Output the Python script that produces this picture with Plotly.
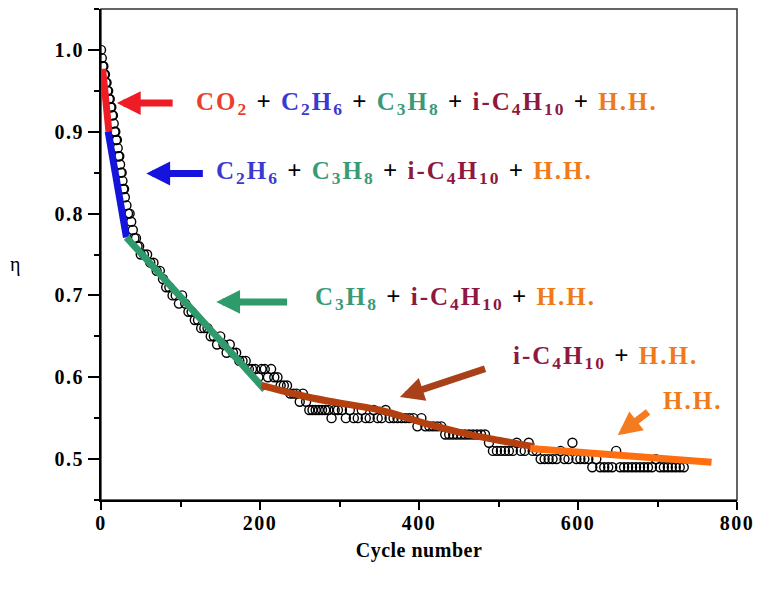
import plotly.graph_objects as go

# ---------------- data ----------------
cycles_a = [0, 1, 2, 3, 4, 5, 6, 7, 8, 9, 10, 11, 12, 13, 14, 15, 16, 17, 18, 19, 20,
            21, 22, 23, 24, 25, 26, 27, 28, 29, 30, 32, 34, 36, 38, 40, 42, 44, 46, 48, 50]
eta_a = [1.00, 0.99, 0.98, 0.98, 0.97, 0.97, 0.96, 0.96, 0.95, 0.95, 0.94, 0.94, 0.93, 0.93,
         0.92, 0.92, 0.91, 0.90, 0.90, 0.89, 0.89, 0.88, 0.87, 0.87, 0.86, 0.85, 0.85, 0.84,
         0.83, 0.83, 0.82, 0.81, 0.80, 0.80, 0.79, 0.78, 0.77, 0.77, 0.76, 0.76, 0.75]

cycles_b = [54, 58, 62, 66, 70, 74, 78, 82, 86, 90, 94, 98, 102, 106, 110, 114, 118, 122,
            126, 130, 134, 138, 142, 146, 150, 154, 158, 162, 166, 170, 174, 178, 182, 186,
            190, 194, 198, 202, 206, 210, 214, 218, 222, 226, 230, 234, 238, 242, 246, 250,
            254, 258, 262, 266, 270, 274, 278, 282, 286, 290, 294, 298]
eta_b = [0.75, 0.75, 0.74, 0.74, 0.73, 0.73, 0.72, 0.71, 0.71, 0.70, 0.70, 0.69, 0.70, 0.69,
         0.68, 0.68, 0.67, 0.67, 0.66, 0.66, 0.66, 0.65, 0.65, 0.64, 0.65, 0.64, 0.63, 0.64,
         0.63, 0.63, 0.62, 0.62, 0.62, 0.61, 0.61, 0.61, 0.60, 0.61, 0.61, 0.60, 0.61, 0.60,
         0.60, 0.59, 0.59, 0.59, 0.58, 0.58, 0.58, 0.57, 0.58, 0.57, 0.56, 0.56, 0.56, 0.56,
         0.56, 0.56, 0.56, 0.55, 0.56, 0.56]

cycles_c = [303, 308, 313, 318, 323, 328, 333, 338, 343, 348, 353, 358, 363, 368, 373, 378,
            383, 388, 393, 398, 403, 408, 413, 418, 423, 428, 433, 438, 443, 448, 453, 458,
            463, 468, 473, 478, 483, 488, 493, 498, 503, 508, 513, 518, 523, 528, 533, 538,
            543, 548, 553, 558, 563, 568, 573, 578, 583, 588, 593, 598, 603, 608, 613, 618,
            623, 628, 633, 638, 643, 648, 653, 658, 663, 668, 673, 678, 683, 688, 693, 698,
            703, 708, 713, 718, 723, 728, 733]
eta_c = [0.56, 0.55, 0.56, 0.55, 0.55, 0.56, 0.55, 0.55, 0.56, 0.55, 0.55, 0.56, 0.55, 0.55,
         0.55, 0.55, 0.55, 0.55, 0.55, 0.54, 0.55, 0.54, 0.54, 0.54, 0.54, 0.54, 0.53, 0.53,
         0.53, 0.53, 0.53, 0.53, 0.53, 0.53, 0.53, 0.53, 0.53, 0.52, 0.51, 0.51, 0.51, 0.51,
         0.51, 0.51, 0.52, 0.51, 0.51, 0.52, 0.51, 0.51, 0.50, 0.50, 0.50, 0.50, 0.50, 0.51,
         0.50, 0.50, 0.52, 0.50, 0.50, 0.50, 0.50, 0.49, 0.50, 0.49, 0.49, 0.49, 0.49, 0.51,
         0.49, 0.49, 0.49, 0.49, 0.49, 0.49, 0.49, 0.49, 0.49, 0.50, 0.49, 0.49, 0.49, 0.49,
         0.49, 0.49, 0.49]

# fitted segments
fit_co2_x = [2, 10]
fit_co2_y = [0.977, 0.900]
fit_c2_x = [9, 32]
fit_c2_y = [0.900, 0.771]
fit_c3_x = [32, 206]
fit_c3_y = [0.771, 0.585]
fit_c4_x = [202, 250, 285, 350, 410, 450, 500, 545]
fit_c4_y = [0.590, 0.578, 0.571, 0.560, 0.543, 0.533, 0.523, 0.515]
fit_hh_x = [540, 768]
fit_hh_y = [0.513, 0.496]

x_ticks = [0, 200, 400, 600, 800]
y_ticks = [0.5, 0.6, 0.7, 0.8, 0.9, 1.0]

# ---------------- colours ----------------
C_CO2 = "#e8402c"
C_C2 = "#3a3ad0"
C_C3 = "#3a9a78"
C_C4 = "#8e1840"
C_HH = "#f07a1a"

L_CO2 = "#ee1c25"
L_C2 = "#1414dc"
L_C3 = "#2f9a6c"
L_C4 = "#b4400f"
L_HH = "#ff6f12"

FONT = "Liberation Serif"
LS = "letter-spacing:2px"

cycles = cycles_a + cycles_b + cycles_c
eta = eta_a + eta_b + eta_c

fig = go.Figure()
fig.add_trace(go.Scatter(
    x=cycles, y=eta, mode="markers",
    marker=dict(symbol="circle-open", size=9, color="black", line=dict(width=1.4, color="black")),
    showlegend=False, hoverinfo="x+y"))

for fx, fy, col in [(fit_co2_x, fit_co2_y, L_CO2), (fit_c2_x, fit_c2_y, L_C2),
                    (fit_c3_x, fit_c3_y, L_C3), (fit_c4_x, fit_c4_y, L_C4),
                    (fit_hh_x, fit_hh_y, L_HH)]:
    fig.add_trace(go.Scatter(x=fx, y=fy, mode="lines", line=dict(color=col, width=7, shape="spline"),
                             showlegend=False, hoverinfo="skip"))


def sp(txt, col):
    return f"<span style='color:{col};{LS}'>{txt}</span>"


CO2 = sp("CO<sub>2</sub>", C_CO2)
C2 = sp("C<sub>2</sub>H<sub>6</sub>", C_C2)
C3 = sp("C<sub>3</sub>H<sub>8</sub>", C_C3)
C4 = sp("i-C<sub>4</sub>H<sub>10</sub>", C_C4)
HH = sp("H.H.", C_HH)
PL = sp(" + ", "#000000")

labels = [
    (CO2 + PL + C2 + PL + C3 + PL + C4 + PL + HH, 117, 0.935),
    (C2 + PL + C3 + PL + C4 + PL + HH, 142, 0.850),
    (C3 + PL + C4 + PL + HH, 267, 0.696),
    (C4 + PL + HH, 516, 0.624),
    (HH, 705, 0.572),
]
for txt, lx, ly in labels:
    fig.add_annotation(x=lx, y=ly, xref="x", yref="y", text=txt, showarrow=False,
                       xanchor="left", yanchor="middle",
                       font=dict(family=FONT, size=25, color="black", weight="bold"))

arrows = [
    (20, 0.935, 92, 0.935, L_CO2),
    (57, 0.849, 130, 0.849, L_C2),
    (145, 0.692, 236, 0.692, L_C3),
    (376, 0.576, 485, 0.611, "#a8401a"),
    (650, 0.529, 690, 0.559, "#f57b20"),
]
for tx, ty, tlx, tly, col in arrows:
    fig.add_annotation(x=tx, y=ty, ax=tlx, ay=tly, xref="x", yref="y", axref="x", ayref="y",
                       text="", showarrow=True, arrowhead=2, arrowsize=0.68, arrowwidth=7,
                       arrowcolor=col, standoff=0)

fig.add_annotation(x=-0.147, y=0.479, xref="paper", yref="paper", text="η", showarrow=False,
                   font=dict(family=FONT, size=20, color="black"))

tick_font = dict(family=FONT, size=20, color="black", weight="bold")
axis_common = dict(showgrid=False, zeroline=False, showline=True, linecolor="black", linewidth=2,
                   ticks="outside", tickwidth=2, tickcolor="black", tickfont=tick_font)


def tick_txt(s):
    return f"<span style='letter-spacing:1.5px'>{s}</span>"


fig.update_xaxes(range=[0, 800], tickvals=x_ticks, ticktext=[tick_txt(str(v)) for v in x_ticks],
                 ticklen=8, ticklabelstandoff=-4,
                 minor=dict(dtick=100, tick0=0, ticks="outside", ticklen=5, tickwidth=2, tickcolor="black"),
                 title=dict(text="<span style='letter-spacing:0.5px'>Cycle number</span>", standoff=10,
                            font=dict(family=FONT, size=20, color="black", weight="bold")),
                 **axis_common)
fig.update_yaxes(range=[0.45, 1.05], tickvals=y_ticks, ticktext=[tick_txt(f"{v:.1f}") for v in y_ticks],
                 ticklen=11,
                 minor=dict(dtick=0.05, tick0=0.45, ticks="outside", ticklen=5, tickwidth=2, tickcolor="black"),
                 **axis_common)

fig.add_shape(type="rect", xref="paper", yref="paper", x0=0, y0=0, x1=1, y1=1,
              line=dict(color="#333333", width=1.5), layer="below")

fig.update_layout(width=763, height=590, margin=dict(l=101, r=21, t=9, b=90),
                  plot_bgcolor="white", paper_bgcolor="white", showlegend=False)

fig.write_html("out.html")
